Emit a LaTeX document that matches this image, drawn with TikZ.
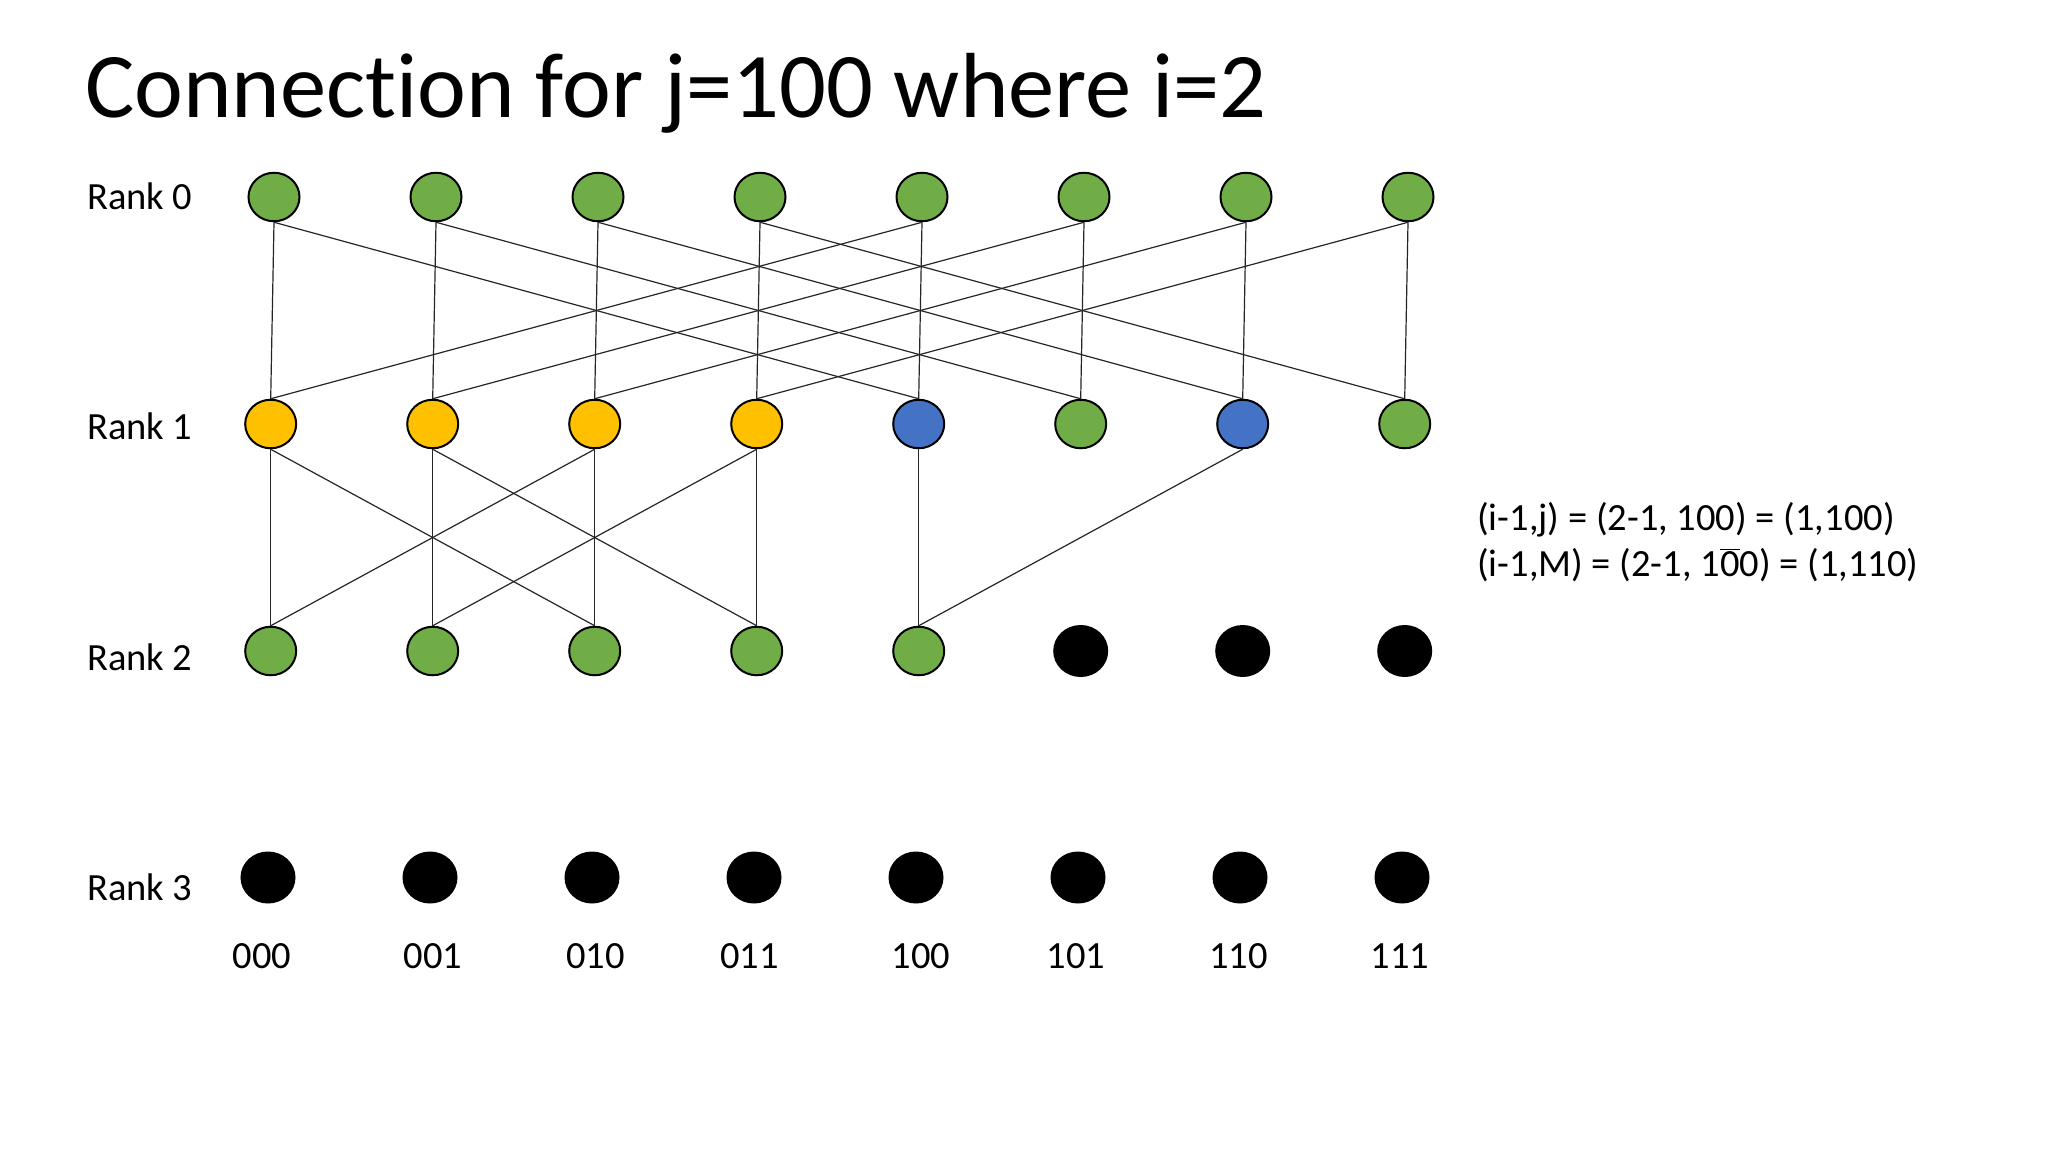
\documentclass[tikz,border=0pt]{standalone}
\usepackage{fontspec}
\setmainfont{Carlito}[Ligatures=NoCommon]
\usetikzlibrary{shapes.geometric}
\definecolor{ngreen}{HTML}{70AD47}
\definecolor{ngold}{HTML}{FFC000}
\definecolor{nblue}{HTML}{4472C4}
\tikzset{
  vnode/.style={ellipse, draw=black, line width=2pt, minimum width=51pt, minimum height=48.5pt, inner sep=0pt},
  gnode/.style={vnode, fill=ngreen},
  ynode/.style={vnode, fill=ngold},
  bnode/.style={vnode, fill=nblue},
  knode/.style={vnode, fill=black, minimum width=53pt, minimum height=50pt},
  link/.style={line width=1.2pt, draw=black!85},
  ranklbl/.style={anchor=base west, inner sep=0pt, font=\fontsize{38.5}{46}\selectfont},
  binlbl/.style={anchor=base, inner sep=0pt, font=\fontsize{38.5}{46}\selectfont},
  formula/.style={anchor=base west, inner sep=0pt, font=\fontsize{38.5}{46}\selectfont},
}
\begin{document}
\begin{tikzpicture}[x=1pt, y=-1pt]
\useasboundingbox[fill=white] (0,0) rectangle (2048,1152);
% title
\node[anchor=base west, inner sep=0pt, font=\fontsize{92.5}{110}\selectfont] (title) at (85,117) {Connection for j=100 where i=2};
% rank labels
\node[ranklbl] (lr0) at (87,209) {Rank 0};
\node[ranklbl] (lr1) at (87,439) {Rank 1};
\node[ranklbl] (lr2) at (87,670) {Rank 2};
\node[ranklbl] (lr3) at (87,900) {Rank 3};
% rank 0
\foreach \i in {0,...,7} {
  \node[gnode] (r0\i) at ({274+162*\i},197) {};
}
% rank 1
\foreach \i/\s in {0/ynode,1/ynode,2/ynode,3/ynode,4/bnode,5/gnode,6/bnode,7/gnode} {
  \node[\s] (r1\i) at ({270.7+162*\i},424) {};
}
% rank 2
\foreach \i/\s in {0/gnode,1/gnode,2/gnode,3/gnode,4/gnode,5/knode,6/knode,7/knode} {
  \node[\s] (r2\i) at ({270.7+162*\i},651) {};
}
% rank 3
\foreach \i in {0,...,7} {
  \node[knode] (r3\i) at ({268+162*\i},877.5) {};
}
% binary labels
\node[binlbl] (b0) at (262,968) {000};
\node[binlbl] (b1) at (432.8,968) {001};
\node[binlbl] (b2) at (595.7,968) {010};
\node[binlbl] (b3) at (749.7,968) {011};
\node[binlbl] (b4) at (921,968) {100};
\node[binlbl] (b5) at (1076,968) {101};
\node[binlbl] (b6) at (1238.6,968) {110};
\node[binlbl] (b7) at (1400,968) {111};
% formulas
\node[formula] (f1) at (1477,530) {(i-1,j) = (2-1, 100) = (1,100)};
\node[formula] (f2) at (1477,576) {(i-1,M) = (2-1, 1$\overline{\hbox{0}}$0) = (1,110)};
% connectors rank 0 -> rank 1
\foreach \i in {0,...,7} {
  \draw[link] (r0\i.south) -- (r1\i.north);
}
\foreach \a/\b in {0/4,1/5,2/6,3/7,4/0,5/1,6/2,7/3} {
  \draw[link] (r0\a.south) -- (r1\b.north);
}
% rank 1 -> rank 2
\foreach \i in {0,...,4} {
  \draw[link] (r1\i.south) -- (r2\i.north);
}
\foreach \a/\b in {0/2,1/3,2/0,3/1,6/4} {
  \draw[link] (r1\a.south) -- (r2\b.north);
}
\end{tikzpicture}
\end{document}
